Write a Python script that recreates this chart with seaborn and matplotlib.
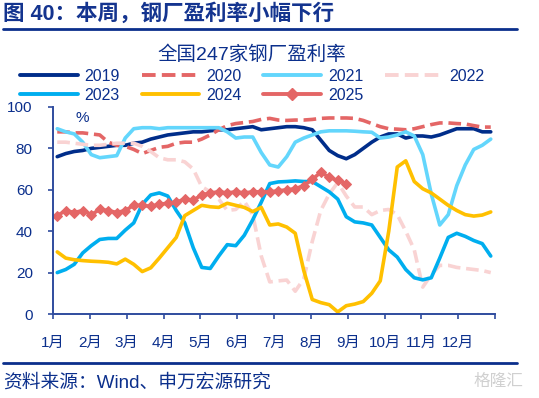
import seaborn as sns
import matplotlib.pyplot as plt
import matplotlib.lines as mlines

# data: weekly steel mill profitability (%), weeks 1..52
weeks = list(range(1, 53))
months = ["1月", "2月", "3月", "4月", "5月", "6月", "7月", "8月", "9月", "10月", "11月", "12月"]

y2019 = [76, 77.5, 78.5, 79, 80, 80.5, 81, 81.5, 81.5, 82.5, 83, 84.5, 85.5, 86.5, 87, 87.5,
         88, 88, 88.5, 89, 89, 89.5, 90, 90.5, 89, 89.5, 90, 90.5, 90.5, 90, 89, 84,
         79, 76.5, 75, 77, 80, 83, 85.5, 87, 87, 85, 86, 86, 85.5, 86.5, 88, 89.5,
         89.5, 89.5, 88, 88]
y2020 = [88, 88, 87.5, 87.5, 87, 86.5, 83, 81.5, 81, 79.5, 77.5, 79, 80.5, 81, 82.5, 83,
         83, 84.5, 86.5, 89, 91, 92, 92.5, 93, 94, 94.5, 93.7, 93.5, 93.7, 93.7, 94, 94.5,
         94.7, 94.7, 94.7, 94.5, 93.5, 92, 90.5, 89.5, 89.3, 89, 89.5, 90.5, 91.5, 92.3, 92.3, 92,
         91.8, 91, 90.3, 90.3]
y2021 = [89.5, 88, 87, 83, 77, 75.5, 76, 76.5, 85, 89.5, 90, 90, 89.5, 90, 90, 90,
         90, 90, 90, 90, 88, 85, 85.5, 85.5, 78, 72, 71, 76, 83, 85, 86.5, 88,
         88.5, 88.5, 88.5, 88.3, 88, 87.8, 85, 85.5, 86.5, 88, 86, 77, 58, 43, 48, 62,
         72, 79.5, 81.5, 84.5]
y2022 = [83, 83, 82.5, 82, 81.5, 81.5, 82, 82.5, 82.5, 82.5, 81, 78.5, 75.5, 74.5, 74.5, 73.5,
         70, 61.5, 59, 55.5, 50, 50.5, 54.5, 48, 28, 15.5, 16, 16.4, 11, 17, 35, 50,
         58, 63.5, 57, 51.7, 51.7, 48, 50, 50.5, 48, 40, 31, 13, 19, 23.5, 23.5, 22.5,
         22, 21.5, 21, 20]
y2023 = [20, 21.5, 24, 29.5, 33, 36, 36.5, 36.5, 40.5, 44, 53, 57.5, 58.5, 57, 50, 44,
         32, 22.5, 22, 28, 33.5, 33, 38, 45.5, 54, 63, 63.8, 64, 64.3, 64, 64, 61.5,
         59, 55.5, 47, 44.5, 44, 43, 37, 31, 27.5, 21.5, 17.5, 16.5, 17.5, 27, 37, 39,
         37.5, 35.5, 34, 28]
y2024 = [30, 27, 26.2, 25.8, 25.5, 25.3, 25, 24.2, 26.5, 24, 20.5, 22.3, 27, 32, 37, 47.5,
         50, 52.5, 51.8, 51.5, 53.5, 52.5, 51.5, 49.5, 51.5, 43, 43.5, 42, 39, 21, 7, 5.5,
         4.5, 1, 4, 4.8, 6, 10, 16, 40, 71, 74, 64, 60.5, 58.5, 55.5, 52.5, 50,
         48, 47.3, 47.8, 49.3]
y2025 = [47.5, 50, 49, 50, 48, 50.5, 50, 49, 50, 52.5, 52.5, 52, 53, 53.5, 54, 55.5,
         55, 57.5, 58.5, 59, 58.5, 59, 58.5, 59, 59, 59, 59.5, 60, 60.5, 62, 65, 68.5,
         66, 64.5, 63]

navy = "#0B2F8C"
spine_c = "#2F4C9E"

sns.set_style("ticks")
plt.rcParams['font.family'] = ['Liberation Sans', 'Noto Sans CJK SC']

fig = plt.figure(figsize=(5.39, 3.98), dpi=100)
ax = fig.add_axes([53 / 539, 1 - 314 / 398, 442 / 539, 207 / 398])

series = [
    ("2019", y2019, "#002D8A", "-", None),
    ("2020", y2020, "#E46666", "--", None),
    ("2021", y2021, "#63D6FC", "-", None),
    ("2022", y2022, "#F9D3D3", "--", None),
    ("2023", y2023, "#00AEEF", "-", None),
    ("2024", y2024, "#FFC000", "-", None),
    ("2025", y2025, "#E46666", "-", "D"),
]

handles = {}
for name, vals, col, ls, mk in series:
    kw = dict(x=weeks[:len(vals)], y=vals, ax=ax, color=col, linewidth=2.6, label=name)
    if mk:
        kw.update(marker=mk, markersize=5.5, markeredgecolor=col, markerfacecolor=col)
    sns.lineplot(**kw)
    line = ax.lines[-1]
    if ls == "--":
        line.set_dashes((3.5, 1.6))
    h = mlines.Line2D([], [], color=col, linewidth=2.8, marker=mk, markersize=6)
    if ls == "--":
        h.set_dashes((3.5, 1.6))
    handles[name] = h

if ax.get_legend():
    ax.get_legend().remove()

ax.set_xlim(0.5, 52.5)
ax.set_ylim(0, 100)
ax.set_yticks(range(0, 101, 20))
ax.set_xticks([0.5 + m * 52 / 12 for m in range(13)])
ax.set_xticklabels(months + [""])
ax.set_xlabel("")
ax.set_ylabel("")
sns.despine(ax=ax)
for s in ["left", "bottom"]:
    ax.spines[s].set_color(spine_c)
    ax.spines[s].set_linewidth(1.4)
ax.tick_params(axis="both", colors=spine_c, labelcolor=navy, labelsize=11, length=3.5, width=1.2)
ax.tick_params(axis="y", pad=11)
ax.tick_params(axis="x", pad=12)
ax.text(0.066, 0.947, "%", transform=ax.transAxes, color=navy, fontsize=11, ha="center", va="center")

order = ["2019", "2023", "2020", "2024", "2021", "2025", "2022"]
fig.legend([handles[k] for k in order], order, ncol=4, loc="upper left",
           bbox_to_anchor=(20 / 539, 1 - 69 / 398), frameon=False, fontsize=11.5,
           labelcolor=navy, handlelength=3.6, handletextpad=0.45, columnspacing=1.35,
           labelspacing=0.25, borderpad=0, borderaxespad=0)

fig.text(3 / 539, 1 - 14 / 398, "图 40：本周，钢厂盈利率小幅下行", fontsize=15.5, fontweight="bold",
         color="#14348F", ha="left", va="center")
fig.add_artist(mlines.Line2D([3 / 539, 517 / 539], [1 - 29 / 398, 1 - 29 / 398], color="#0B2F8C", linewidth=2))
fig.text(252 / 539, 1 - 55 / 398, "全国247家钢厂盈利率", fontsize=14, color=navy, ha="center", va="center")
fig.add_artist(mlines.Line2D([3 / 539, 517 / 539], [1 - 363 / 398, 1 - 363 / 398], color="#0B2F8C", linewidth=2))
fig.text(3 / 539, 1 - 383 / 398, "资料来源：Wind、申万宏源研究", fontsize=13.5, color=navy, ha="left", va="center")
fig.text(498 / 539, 1 - 381 / 398, "格隆汇", fontsize=12, color="#D0D0D0", ha="center", va="center")

fig.savefig("out.png", dpi=100)
